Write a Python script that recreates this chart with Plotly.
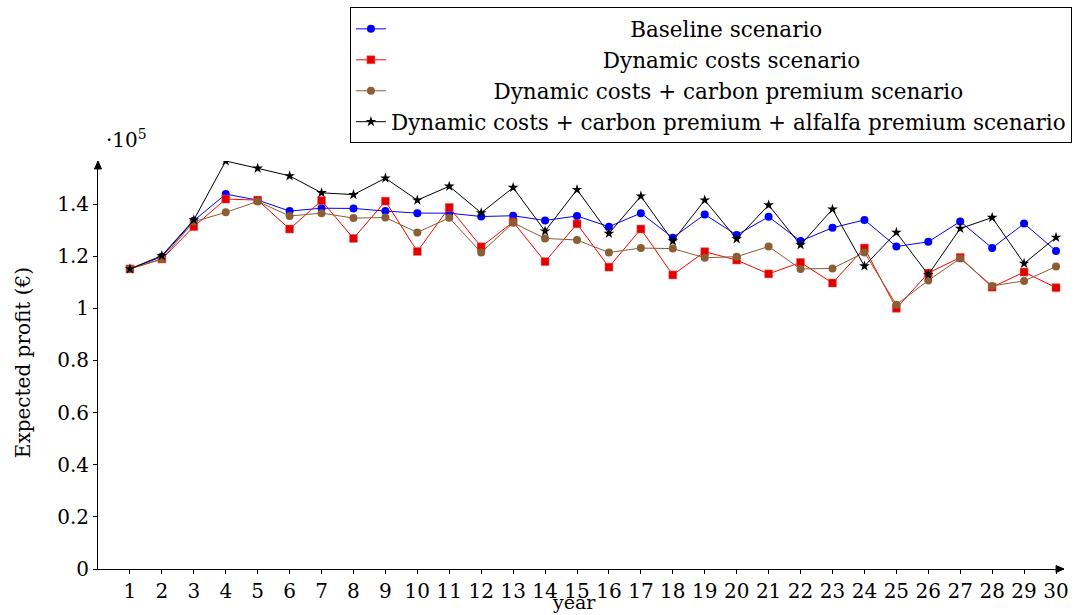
import plotly.graph_objects as go

years = list(range(1, 31))

# Expected profit, in units of 10^5 €
baseline = [1.151, 1.198, 1.336, 1.438, 1.415, 1.373, 1.384, 1.383, 1.373, 1.365,
            1.365, 1.352, 1.355, 1.337, 1.354, 1.313, 1.365, 1.271, 1.360, 1.281,
            1.351, 1.258, 1.309, 1.339, 1.237, 1.255, 1.333, 1.231, 1.325, 1.220]
dynamic = [1.151, 1.189, 1.313, 1.419, 1.415, 1.304, 1.413, 1.268, 1.411, 1.218,
           1.387, 1.236, 1.331, 1.179, 1.324, 1.158, 1.304, 1.128, 1.217, 1.185,
           1.132, 1.176, 1.097, 1.231, 1.000, 1.135, 1.195, 1.081, 1.139, 1.079]
carbon = [1.151, 1.189, 1.332, 1.368, 1.410, 1.354, 1.365, 1.346, 1.348, 1.291,
          1.347, 1.214, 1.328, 1.268, 1.262, 1.214, 1.231, 1.229, 1.194, 1.198,
          1.237, 1.151, 1.153, 1.214, 1.014, 1.107, 1.191, 1.086, 1.105, 1.160]
alfalfa = [1.151, 1.202, 1.339, 1.565, 1.537, 1.508, 1.443, 1.436, 1.499, 1.415,
           1.468, 1.366, 1.463, 1.296, 1.455, 1.287, 1.430, 1.258, 1.415, 1.266,
           1.396, 1.243, 1.380, 1.162, 1.291, 1.129, 1.306, 1.348, 1.172, 1.272]

names = ["Baseline scenario",
         "Dynamic costs scenario",
         "Dynamic costs + carbon premium scenario",
         "Dynamic costs + carbon premium + alfalfa premium scenario"]
pads = [35, 31, 15, 0]

ytick_vals = [0, 0.2, 0.4, 0.6, 0.8, 1.0, 1.2, 1.4]
ytick_text = ["0", "0.2", "0.4", "0.6", "0.8", "1", "1.2", "1.4"]

FONT = "DejaVu Serif"
FS = 20
LFS = 21.5

fig = go.Figure()
styles = [
    (baseline, "#0000FF", dict(symbol="circle", size=8, color="#0000FF")),
    (dynamic, "#FF0000", dict(symbol="square", size=8, color="#E00000", line=dict(color="#FF6060", width=0.5))),
    (carbon, "#8B5E34", dict(symbol="circle", size=8, color="#8B5E34")),
    (alfalfa, "#000000", dict(symbol="star", size=8, color="#000000")),
]
for (vals, col, mk), name, pad in zip(styles, names, pads):
    fig.add_trace(go.Scatter(
        x=years, y=vals, mode="lines+markers",
        name="\u00a0" * pad + name,
        line=dict(color=col, width=1),
        marker=mk,
    ))

L, R, T, B = 98, 7, 160, 46
PH = 615 - T - B
PW = 1079 - L - R

# arrow heads at the axis ends (paper coordinates)
ax_len, ax_half = 8 / PW, 3.5 / PH
ay_len, ay_half = 8 / PH, 3.5 / PW
arrow_x = f"M 1,0 L {1 - ax_len},{ax_half} L {1 - ax_len},{-ax_half} Z"
arrow_y = f"M 0,1 L {ay_half},{1 - ay_len} L {-ay_half},{1 - ay_len} Z"

fig.update_layout(
    width=1079, height=615,
    margin=dict(l=L, r=R, t=T, b=B, pad=0),
    paper_bgcolor="white", plot_bgcolor="white",
    font=dict(family=FONT, size=FS, color="black"),
    showlegend=True,
    legend=dict(
        x=1 + 8 / PW, xanchor="right", y=1 + (T - 6) / PH, yanchor="top",
        bordercolor="black", borderwidth=1, bgcolor="white",
        font=dict(family=FONT, size=LFS, color="black"),
        tracegroupgap=0, itemwidth=30,
    ),
    xaxis=dict(
        range=[0, 30.25], tickmode="array", tickvals=years,
        ticktext=[str(y) for y in years],
        showgrid=False, zeroline=False, showline=True, linecolor="black", linewidth=1,
        ticks="outside", ticklen=4, tickcolor="black",
        tickfont=dict(family=FONT, size=FS),
    ),
    yaxis=dict(
        range=[0, 1.565], tickmode="array", tickvals=ytick_vals, ticktext=ytick_text,
        showgrid=False, zeroline=False, showline=True, linecolor="black", linewidth=1,
        ticks="outside", ticklen=4, tickcolor="black",
        tickfont=dict(family=FONT, size=FS),
    ),
    shapes=[
        dict(type="path", path=arrow_x, xref="paper", yref="paper",
             fillcolor="black", line=dict(color="black", width=1), layer="above"),
        dict(type="path", path=arrow_y, xref="paper", yref="paper",
             fillcolor="black", line=dict(color="black", width=1), layer="above"),
    ],
    annotations=[
        dict(text="Expected profit (€)", xref="paper", yref="paper",
             x=-(L - 22) / PW, y=0.506, xanchor="center", yanchor="middle",
             textangle=-90, showarrow=False, font=dict(family=FONT, size=FS)),
        dict(text="year", xref="paper", yref="paper",
             x=(578 - L) / PW, y=-(602 - 569) / PH, xanchor="center", yanchor="middle",
             showarrow=False, font=dict(family=FONT, size=19)),
        dict(text="·10<sup>5</sup>", xref="paper", yref="paper",
             x=(104 - L) / PW, y=1 + (160 - 138) / PH, xanchor="left", yanchor="middle",
             showarrow=False, font=dict(family=FONT, size=FS)),
    ],
)

fig.write_html(
    "out.html",
    config={"displayModeBar": False},
    post_script="document.body.style.margin='0';document.body.style.overflow='hidden';",
)
